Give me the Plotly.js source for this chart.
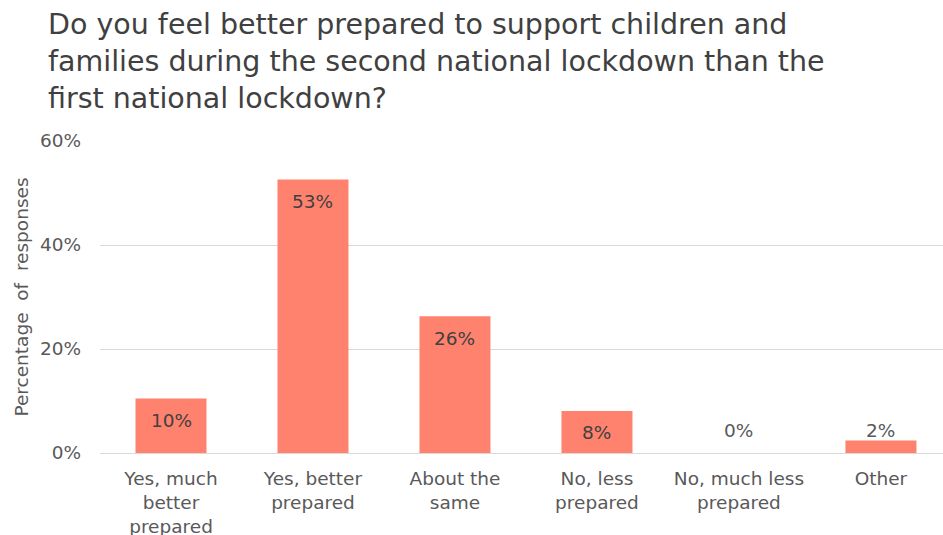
<!DOCTYPE html>
<html>
<head>
<meta charset="utf-8">
<script src="https://cdn.plot.ly/plotly-3.0.1.min.js"></script>
<style>html,body{margin:0;padding:0;background:#fff;}#chart{width:943px;height:535px;}</style>
</head>
<body>
<div id="chart"></div>
<script>
const categories = ["Yes, much<br>better<br>prepared", "Yes, better<br>prepared", "About the<br>same", "No, less<br>prepared", "No, much less<br>prepared", "Other"];
const values = [10.5, 52.6, 26.3, 8.1, 0, 2.4];
const labels = ["10%", "53%", "26%", "8%", "0%", "2%"];
const yTicks = [0, 20, 40, 60];

const font = "DejaVu Sans, Verdana, sans-serif";
const trace = {
  type: "bar",
  x: categories.map((c, i) => i),
  y: values,
  marker: {color: "#ff826e"},
  hoverinfo: "none"
};

const annotations = values.map((v, i) => {
  const inside = v >= 5;
  return {
    x: i, y: inside ? v : 0, xref: "x", yref: "y",
    text: labels[i], showarrow: false,
    yshift: inside ? -22 : 23,
    font: {family: font, size: 18.5, color: inside ? "#404040" : "#595959"}
  };
});

const layout = {
  width: 943, height: 535,
  margin: {l: 100, r: 0, t: 141, b: 82},
  paper_bgcolor: "#fff", plot_bgcolor: "#fff",
  bargap: 0.5,
  showlegend: false,
  title: {
    text: "Do you feel better prepared to support children and<br>families during the second national lockdown than the<br>first national lockdown?",
    x: 48/943, xref: "container", xanchor: "left",
    y: 1 - 34/535, yref: "container", yanchor: "top",
    font: {family: font, size: 28.5, color: "#404040"}
  },
  xaxis: {
    range: [-0.5, 5.437],
    tickmode: "array", tickvals: categories.map((c, i) => i), ticktext: categories,
    showgrid: false, zeroline: false, showline: false,
    ticks: "", ticklabelstandoff: 12,
    tickfont: {family: font, size: 18.5, color: "#595959"},
    fixedrange: true
  },
  yaxis: {
    range: [0, 60],
    tickmode: "array", tickvals: yTicks, ticktext: yTicks.map(t => t + "%"),
    showgrid: true, gridcolor: "#d9d9d9", gridwidth: 1,
    zeroline: true, zerolinecolor: "#d9d9d9", zerolinewidth: 1,
    showline: false, ticks: "", ticklabelstandoff: 18,
    tickfont: {family: font, size: 18.5, color: "#595959"},
    title: {text: "Percentage  of  responses", standoff: 6, font: {family: font, size: 18.5, color: "#595959"}},
    fixedrange: true
  },
  annotations: annotations
};

Plotly.newPlot("chart", [trace], layout, {displayModeBar: false, staticPlot: true});
</script>
</body>
</html>
